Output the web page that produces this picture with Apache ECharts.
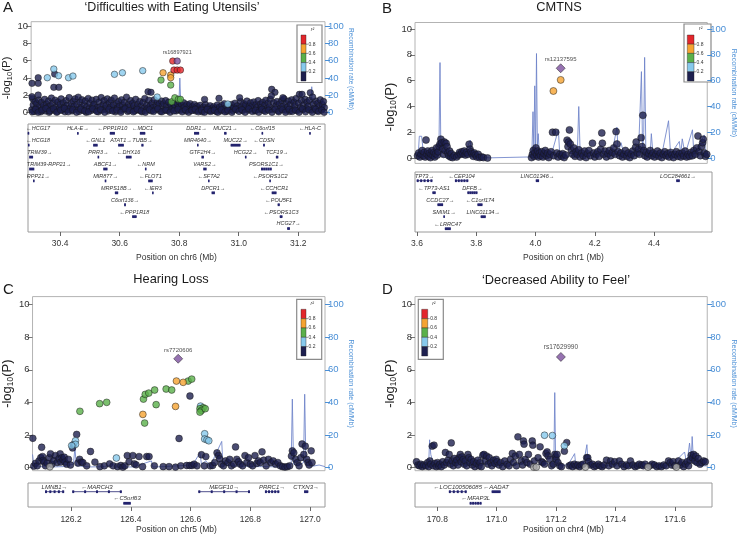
<!DOCTYPE html>
<html><head><meta charset="utf-8">
<script src="https://cdn.jsdelivr.net/npm/echarts@6.0.0/dist/echarts.min.js"></script>
<style>html,body{margin:0;padding:0;background:#fff}#c{width:738px;height:536px}</style>
</head><body><div id="c"></div>
<script>
// ---------------- DATA ----------------
const pTicks = [0, 2, 4, 6, 8, 10];
const rTicks = [0, 20, 40, 60, 80, 100];
const xTicksA = [30.4, 30.6, 30.8, 31.0, 31.2];
const xTicksB = [3.6, 3.8, 4.0, 4.2, 4.4];
const xTicksC = [126.2, 126.4, 126.6, 126.8, 127.0];
const xTicksD = [170.8, 171.0, 171.2, 171.4, 171.6];

// Panel A: 'Difficulties with Eating Utensils' (chr6)
const navyA = [[30.294,0.35],[30.297,1.62],[30.299,0.9],[30.302,0.15],[30.305,1.3],[30.309,0.55],[30.311,1.05],[30.314,0.25],[30.318,1.48],[30.321,0.7],[30.325,0.1],[30.327,1.2],[30.331,0.45],[30.334,0.85],[30.338,1.55],[30.340,0.2],[30.344,1.0],[30.347,0.6],[30.351,1.35],[30.353,0.05],[30.357,0.8],[30.361,1.7],[30.363,0.4],[30.366,1.1],[30.370,0.25],[30.374,1.45],[30.377,0.7],[30.381,0.15],[30.383,1.25],[30.387,0.5],[30.391,0.95],[30.394,1.6],[30.397,0.3],[30.401,1.15],[30.404,0.65],[30.407,0.1],[30.411,1.4],[30.414,0.85],[30.417,0.35],[30.421,1.75],[30.424,0.55],[30.428,1.05],[30.431,0.2],[30.435,1.3],[30.438,0.75],[30.441,1.6],[30.445,0.4],[30.448,0.95],[30.452,1.8],[30.455,0.15],[30.458,1.2],[30.462,0.6],[30.465,1.5],[30.468,0.3],[30.472,0.9],[30.476,1.35],[30.479,0.05],[30.482,0.7],[30.486,1.65],[30.489,0.45],[30.492,1.1],[30.496,0.25],[30.499,1.45],[30.503,0.8],[30.506,1.0],[30.510,0.35],[30.513,1.55],[30.516,0.6],[30.520,0.1],[30.523,1.25],[30.527,0.7],[30.530,1.75],[30.533,0.3],[30.537,0.95],[30.540,1.4],[30.544,0.5],[30.547,0.85],[30.551,1.6],[30.554,0.2],[30.558,1.15],[30.561,0.65],[30.564,1.45],[30.568,0.4],[30.571,0.9],[30.575,1.7],[30.578,0.1],[30.582,1.05],[30.585,0.55],[30.589,1.3],[30.592,0.75],[30.596,0.25],[30.599,1.5],[30.603,0.85],[30.606,0.4],[30.609,1.2],[30.613,0.6],[30.616,1.8],[30.620,0.15],[30.623,1.0],[30.627,0.7],[30.630,1.4],[30.634,0.35],[30.637,1.1],[30.641,0.8],[30.644,0.2],[30.647,1.55],[30.651,0.6],[30.654,0.95],[30.658,0.3],[30.661,1.3],[30.665,0.75],[30.668,0.1],[30.672,1.2],[30.675,0.5],[30.678,1.65],[30.682,0.25],[30.685,0.9],[30.689,0.55],[30.692,1.45],[30.696,0.8],[30.700,0.2],[30.703,1.1],[30.706,0.6],[30.710,1.5],[30.713,0.35],[30.717,0.85],[30.721,1.25],[30.724,0.45],[30.727,1.0],[30.731,0.15],[30.735,1.35],[30.738,0.7],[30.742,1.05],[30.745,0.3],[30.749,1.4],[30.752,0.8],[30.756,0.25],[30.759,1.2],[30.763,0.65],[30.767,0.95],[30.770,0.4],[30.774,1.1],[30.778,0.55],[30.781,0.85],[30.785,0.2],[30.789,1.0],[30.792,0.6],[30.796,1.25],[30.800,0.3],[30.803,0.9],[30.807,0.5],[30.810,1.15],[30.814,0.7],[30.818,0.2],[30.821,0.95],[30.825,0.45],[30.829,0.8],[30.832,1.05],[30.836,0.3],[30.840,0.7],[30.843,0.5],[30.847,0.95],[30.851,0.2],[30.855,0.75],[30.858,0.55],[30.862,0.3],[30.866,0.85],[30.870,0.45],[30.873,0.1],[30.877,0.65],[30.884,0.95],[30.888,0.35],[30.892,0.6],[30.896,0.2],[30.900,0.8],[30.904,0.45],[30.908,0.25],[30.912,0.7],[30.916,0.5],[30.920,0.15],[30.924,0.9],[30.928,0.4],[30.932,0.65],[30.936,0.2],[30.940,0.85],[30.944,0.35],[30.948,1.05],[30.952,0.55],[30.956,0.15],[30.964,0.7],[30.968,0.4],[30.972,0.95],[30.976,0.25],[30.980,0.6],[30.984,1.1],[30.988,0.35],[30.992,0.8],[30.996,0.5],[31.003,1.3],[31.006,0.7],[31.010,0.25],[31.014,1.05],[31.018,0.55],[31.021,0.9],[31.025,1.35],[31.029,0.3],[31.033,0.75],[31.037,1.15],[31.041,0.45],[31.044,0.85],[31.048,1.25],[31.052,0.2],[31.056,0.95],[31.059,0.6],[31.063,1.4],[31.067,0.35],[31.071,1.0],[31.074,0.65],[31.078,1.2],[31.082,0.25],[31.086,0.9],[31.089,1.45],[31.093,0.5],[31.097,1.1],[31.101,0.7],[31.104,1.55],[31.112,0.4],[31.116,1.15],[31.124,0.85],[31.127,1.3],[31.131,0.2],[31.135,1.0],[31.139,0.55],[31.143,1.4],[31.147,0.75],[31.151,1.6],[31.155,0.3],[31.158,1.05],[31.162,0.65],[31.166,1.35],[31.170,0.15],[31.173,0.95],[31.177,1.5],[31.181,0.45],[31.185,1.2],[31.188,0.8],[31.192,1.65],[31.196,0.25],[31.200,1.1],[31.206,0.6],[31.210,1.4],[31.214,0.35],[31.218,0.9],[31.222,1.55],[31.226,0.5],[31.229,1.2],[31.233,0.75],[31.237,1.45],[31.244,0.3],[31.251,1.0],[31.255,0.55],[31.259,1.35],[31.263,0.2],[31.266,1.1],[31.270,0.7],[31.274,1.5],[31.278,0.4],[31.281,0.95],[31.285,1.3],[31.288,0.6],
[30.296,0.1],[30.307,0.4],[30.316,0.05],[30.329,0.3],[30.342,0.5],[30.355,0.2],[30.368,0.45],[30.379,0.05],[30.392,0.3],[30.405,0.5],[30.418,0.1],[30.433,0.35],[30.446,0.05],[30.460,0.4],[30.474,0.2],[30.487,0.1],[30.501,0.45],[30.515,0.15],[30.528,0.35],[30.542,0.05],[30.556,0.4],[30.569,0.2],[30.583,0.3],[30.597,0.05],[30.611,0.45],[30.625,0.25],[30.639,0.1],[30.652,0.4],[30.666,0.2],[30.680,0.05],[30.694,0.35],[30.708,0.15],[30.722,0.45],[30.736,0.1],[30.750,0.3],[30.764,0.05],[30.777,0.2],[30.791,0.4],[30.805,0.1],[30.816,0.35],[30.827,0.05],[30.838,0.25],[30.849,0.4],[30.860,0.1],[30.871,0.3],[30.881,0.05],[30.890,0.4],[30.902,0.15],[30.914,0.3],[30.926,0.05],[30.938,0.35],[30.950,0.1],[30.960,0.3],[30.974,0.05],[30.986,0.4],[30.998,0.15],[31.008,0.35],[31.019,0.05],[31.031,0.45],[31.043,0.15],[31.054,0.3],[31.065,0.05],[31.076,0.4],[31.087,0.15],[31.099,0.3],[31.110,0.05],[31.121,0.4],[31.133,0.1],[31.145,0.35],[31.156,0.05],[31.168,0.4],[31.179,0.15],[31.190,0.3],[31.202,0.05],[31.213,0.45],[31.224,0.1],[31.235,0.35],[31.247,0.05],[31.258,0.4],[31.268,0.15],[31.279,0.3],[31.287,0.05],
[30.372,4.46],[30.316,4.04],[30.295,3.39],[30.316,3.39],[30.369,2.93],[30.386,2.93],[30.689,2.42],[30.699,2.35],[31.109,2.70],[31.120,2.35],[31.108,1.96],[31.203,2.12],[31.212,2.12],[31.240,2.31],[31.248,1.81],[30.881,1.54],[30.930,1.66],[31.000,1.74],[31.147,1.74],[30.295,1.85],[30.316,2.04]];
const lightA = [[30.369,5.04],[30.347,4.04],[30.385,4.27],[30.419,4.04],[30.434,4.23],[30.575,4.43],[30.602,4.61],[30.671,4.85],[30.720,1.81],[30.960,1.0]];
const greenA = [[30.733,3.77],[30.766,3.19],[30.769,1.27],[30.780,1.73],[30.792,1.55],[30.799,1.55]];
const orangeA = [[30.740,4.61],[30.766,4.35],[30.766,4.04]];
const redA = [[30.773,5.96],[30.777,4.92],[30.788,4.92],[30.799,4.92]];
const leadA = [[30.788,5.96]];
const leadNameA = 'rs16897921';
const recombA = [[30.292,0.5],[30.33,1.2],[30.36,0.8],[30.385,2],[30.388,16],[30.392,1.5],[30.45,0.8],[30.5,1.0],[30.55,0.6],[30.6,1.2],[30.632,2],[30.634,16],[30.637,1.5],[30.7,0.9],[30.75,1.2],[30.793,2],[30.797,40],[30.801,3],[30.85,1.0],[30.9,0.6],[30.95,1.0],[31.0,1.5],[31.028,2],[31.03,12],[31.033,1.5],[31.078,2],[31.08,8],[31.085,1],[31.15,1.0],[31.2,1.5],[31.242,3],[31.245,30],[31.248,2],[31.29,1.0]];
const genesA = [['HCG17',30.291,30.295,1,-1],['HLA-E',30.457,30.461,1,1],['PPP1R10',30.567,30.584,1,-1],['MDC1',30.668,30.686,1,-1],['DDR1',30.850,30.867,1,1],['MUC21',30.951,30.959,1,1],['C6orf15',31.077,31.081,1,-1],['HLA-C',31.237,31.242,1,-1],
['HCG18',30.292,30.296,2,-1],['GNL1',30.511,30.526,2,-1],['ATAT1',30.595,30.614,2,1],['TUBB',30.673,30.680,2,1],['MIR4640',30.860,30.861,2,1],['MUC22',30.973,31.006,2,1],['CDSN',31.082,31.088,2,-1],
['TRIM39',30.296,30.309,3,1],['PRR3',30.526,30.531,3,1],['DHX16',30.621,30.640,3,-1],['GTF2H4',30.875,30.883,3,1],['HCG22',31.021,31.026,3,1],['TCF19',31.125,31.133,3,1],
['TRIM39-RPP21',30.296,30.313,4,1],['ABCF1',30.545,30.559,4,1],['NRM',30.685,30.690,4,-1],['VARS2',30.881,30.892,4,1],['PSORS1C1',31.075,31.111,4,1],
['RPP21',30.309,30.313,5,1],['MIR877',30.550,30.551,5,1],['FLOT1',30.696,30.711,5,-1],['SFTA2',30.897,30.901,5,-1],['PSORS1C2',31.103,31.107,5,-1],
['MRPS18B',30.584,30.595,6,1],['IER3',30.709,30.713,6,-1],['DPCR1',30.909,30.920,6,1],['CCHCR1',31.111,31.127,6,-1],
['C6orf136',30.615,30.621,7,1],['POU5F1',31.131,31.138,7,-1],
['PPP1R18',30.642,30.657,8,-1],['PSORS1C3',31.138,31.147,8,-1],
['HCG27',31.163,31.172,9,1]];

// Panel B: CMTNS (chr1)
const navyB = [[3.602,0.2],[3.606,0.4],[3.610,0.1],[3.614,0.3],[3.618,0.6],[3.622,0.2],[3.625,0.45],[3.628,0.1],[3.631,1.41],[3.634,0.3],[3.637,0.55],[3.640,0.15],[3.643,0.4],[3.646,0.05],[3.649,0.3],[3.652,0.6],[3.655,0.2],[3.658,0.45],[3.661,0.1],[3.664,0.35],[3.667,0.8],[3.670,0.25],[3.673,0.5],[3.676,0.9],[3.679,1.1],[3.682,1.47],[3.685,1.2],[3.688,0.7],[3.691,0.3],[3.694,1.25],[3.697,0.6],[3.700,1.15],[3.703,0.9],[3.706,0.4],[3.709,0.2],[3.712,0.55],[3.715,0.1],[3.718,0.35],[3.722,0.05],[3.728,0.2],[3.736,0.1],[3.742,0.25],[3.746,0.45],[3.750,0.3],[3.754,0.5],[3.758,0.35],[3.762,0.55],[3.766,0.25],[3.770,0.45],[3.775,0.3],[3.779,1.08],[3.782,0.7],[3.785,0.5],[3.789,0.35],[3.793,0.15],[3.797,0.4],[3.801,0.25],[3.805,0.1],[3.810,0.3],[3.815,0.05],[3.822,0.1],[3.828,0.05],[3.842,0.02],[3.993,0.05],[3.996,0.3],[3.999,0.6],[4.002,0.15],[4.005,0.45],[4.008,0.8],[4.011,0.25],[4.014,0.55],[4.017,0.1],[4.020,0.4],[4.024,0.2],[4.028,0.5],[4.032,0.1],[4.036,0.35],[4.040,0.6],[4.044,0.2],[4.048,0.4],[4.052,0.05],[4.056,0.3],[4.060,0.5],[4.065,2.01],[4.069,0.2],[4.076,2.01],[4.080,0.4],[4.084,0.1],[4.090,0.3],[4.096,0.15],[4.100,0.35],[4.105,0.05],[4.110,0.25],[4.115,1.4],[4.118,0.9],[4.120,1.25],[4.123,2.19],[4.126,1.1],[4.130,0.6],[4.134,0.3],[4.138,0.8],[4.142,0.15],[4.146,0.5],[4.150,0.3],[4.155,0.65],[4.160,0.1],[4.165,0.4],[4.170,0.2],[4.175,0.55],[4.180,0.05],[4.185,0.35],[4.190,0.6],[4.195,0.2],[4.202,1.16],[4.206,0.4],[4.210,0.1],[4.215,0.3],[4.220,0.5],[4.225,0.15],[4.230,0.7],[4.234,1.96],[4.236,1.16],[4.240,0.3],[4.245,0.55],[4.250,0.1],[4.255,0.35],[4.260,0.6],[4.265,0.2],[4.270,0.45],[4.275,0.8],[4.280,0.3],[4.283,2.06],[4.286,1.1],[4.290,0.5],[4.295,0.2],[4.300,0.4],[4.305,0.1],[4.310,0.3],[4.315,0.6],[4.320,0.15],[4.325,0.4],[4.330,0.05],[4.335,0.3],[4.340,0.55],[4.345,0.2],[4.350,0.85],[4.352,1.25],[4.356,0.4],[4.360,0.7],[4.364,0.3],[4.369,1.59],[4.372,0.9],[4.375,3.32],[4.378,0.6],[4.382,0.2],[4.386,0.45],[4.390,0.1],[4.395,0.35],[4.400,0.6],[4.405,0.2],[4.410,0.4],[4.415,0.1],[4.420,0.3],[4.425,0.55],[4.430,0.15],[4.435,0.4],[4.440,0.05],[4.445,0.3],[4.450,0.5],[4.455,0.2],[4.460,0.35],[4.465,0.1],[4.470,0.45],[4.475,0.25],[4.480,0.05],[4.485,0.3],[4.490,0.5],[4.495,0.15],[4.500,0.35],[4.505,0.1],[4.510,0.4],[4.515,0.2],[4.520,0.55],[4.525,0.1],[4.530,0.3],[4.535,0.15],[4.540,0.45],[4.545,0.2],[4.550,0.6],[4.555,0.3],[4.560,0.8],[4.564,1.72],[4.568,0.5],[4.572,0.2],[4.576,0.9],[4.580,1.2],[4.582,1.47],[4.586,0.4],[4.590,0.15],[4.594,0.3]];
const orangeB = [[4.093,6.06],[4.068,5.2]];
const leadB = [[4.093,6.96]];
const leadNameB = 'rs12137595';
const recombB = [[3.600,1],[3.605,5],[3.608,17],[3.616,17],[3.622,4],[3.63,2],[3.64,1],[3.66,1.5],[3.675,2],[3.679,74],[3.682,2],[3.69,1],[3.70,0.5],[3.72,0.8],[3.74,1.5],[3.76,2],[3.783,14],[3.786,3],[3.80,0.8],[3.83,0.5],[3.85,0.3],[3.99,1],[3.995,10],[3.998,36],[4.001,5],[4.004,56],[4.007,3],[4.010,81],[4.013,10],[4.016,19],[4.02,2],[4.04,1.5],[4.06,2],[4.085,22],[4.09,2],[4.12,1.5],[4.15,3],[4.155,40],[4.16,3],[4.19,2],[4.22,1.5],[4.25,3],[4.27,5],[4.286,24],[4.29,4],[4.30,12],[4.31,3],[4.34,2],[4.36,5],[4.365,35],[4.37,67],[4.374,5],[4.378,20],[4.381,78],[4.385,8],[4.40,3],[4.404,19],[4.41,2],[4.44,3],[4.463,29],[4.47,3],[4.50,13],[4.505,3],[4.51,15],[4.52,3],[4.545,22],[4.55,3],[4.586,18],[4.59,3]];
const genesB = [['TP73',3.599,3.652,1,1],['CEP104',3.728,3.773,1,-1],['LINC01346',4.001,4.012,1,1],['LOC284661',4.475,4.487,1,1],['TP73-AS1',3.652,3.663,2,-1],['DFFB',3.770,3.804,2,1],['CCDC27',3.669,3.688,3,1],['C1orf174',3.804,3.821,3,-1],['SMIM1',3.689,3.693,4,1],['LINC01134',3.815,3.832,4,1],['LRRC47',3.694,3.714,5,-1]];

// Panel C: Hearing Loss (chr5)
const navyC = [[126.057,1.79],[126.060,0.08],[126.066,0.25],[126.072,0.1],[126.078,0.4],[126.084,0.6],[126.087,1.24],[126.090,0.67],[126.092,0.43],[126.095,0.33],[126.100,0.1],[126.106,0.27],[126.113,0.6],[126.117,0.84],[126.122,0.2],[126.128,0.43],[126.134,0.73],[126.140,0.3],[126.146,0.55],[126.150,0.84],[126.152,0.33],[126.156,0.6],[126.160,0.47],[126.164,0.63],[126.166,0.33],[126.172,0.2],[126.178,0.5],[126.185,0.15],[126.192,1.2],[126.195,1.4],[126.206,2.03],[126.210,0.27],[126.216,0.5],[126.222,0.33],[126.227,0.3],[126.240,0.1],[126.253,0.98],[126.268,0.33],[126.285,0.05],[126.300,0.1],[126.318,0.22],[126.330,0.1],[126.345,0.05],[126.356,0.12],[126.363,0.02],[126.370,0.1],[126.378,0.73],[126.384,0.35],[126.397,0.73],[126.402,0.22],[126.408,0.16],[126.418,0.67],[126.430,0.05],[126.444,0.67],[126.452,0.67],[126.470,0.1],[126.500,0.05],[126.520,0.05],[126.542,0.02],[126.554,1.78],[126.560,0.1],[126.580,0.12],[126.590,0.12],[126.598,0.12],[126.605,0.2],[126.615,0.1],[126.630,0.78],[126.640,0.1],[126.645,0.67],[126.660,0.1],[126.668,0.12],[126.675,0.3],[126.683,0.9],[126.688,0.73],[126.692,0.53],[126.698,0.2],[126.705,0.1],[126.712,0.4],[126.720,0.3],[126.726,0.5],[126.732,0.1],[126.740,0.2],[126.746,1.26],[126.750,0.5],[126.756,0.35],[126.762,0.2],[126.770,0.1],[126.778,0.73],[126.784,0.3],[126.790,0.6],[126.796,0.2],[126.804,0.1],[126.812,0.73],[126.818,0.25],[126.824,0.4],[126.830,0.3],[126.836,0.96],[126.842,0.45],[126.850,0.1],[126.858,0.5],[126.866,0.3],[126.874,0.4],[126.882,0.2],[126.890,0.3],[126.898,0.1],[126.906,0.05],[126.914,0.02],[126.922,0.05],[126.930,0.1],[126.936,0.7],[126.939,1.02],[126.944,0.9],[126.950,0.5],[126.956,0.3],[126.962,0.1],[126.968,0.6],[126.972,1.44],[126.978,0.8],[126.983,1.31],[126.988,0.5],[126.992,0.3],[126.996,0.15],[127.003,1.02],[127.006,0.3],[126.591,4.39]];
const lightC = [[126.202,1.64],[126.202,1.42],[126.189,1.34],[126.341,0.58],[126.641,2.07],[126.641,1.75],[126.649,1.7],[126.655,1.64],[126.627,3.77]];
const greenC = [[126.217,3.45],[126.284,3.92],[126.308,4.0],[126.433,4.2],[126.439,4.49],[126.451,4.57],[126.471,4.76],[126.476,3.86],[126.510,4.82],[126.529,4.76],[126.585,5.31],[126.597,5.43],[126.437,2.73],[126.636,3.67],[126.625,3.61],[126.630,3.5],[126.625,3.4],[126.643,3.61]];
const orangeC = [[126.545,5.31],[126.568,5.23],[126.542,3.75],[126.431,3.26]];
const grayC = [[126.115,0.04]];
const leadC = [[126.551,6.68]];
const leadNameC = 'rs7720606';
const recombC = [[126.056,8],[126.06,2],[126.08,0.5],[126.12,0.3],[126.16,0.5],[126.195,2],[126.2,12],[126.205,1],[126.25,0.3],[126.30,0.5],[126.33,2],[126.335,0.3],[126.40,0.3],[126.46,4],[126.465,0.3],[126.5,0.5],[126.55,1],[126.6,1.5],[126.625,9],[126.63,2],[126.645,4],[126.66,1],[126.699,16],[126.703,1.5],[126.75,1],[126.8,0.5],[126.85,0.5],[126.9,0.3],[126.935,2],[126.939,42],[126.943,2],[126.96,1],[126.977,3],[126.981,45],[126.985,2],[127.0,0.5],[127.03,1.5],[127.05,0.5]];
const genesC = [['LMNB1',126.113,126.177,1,1],['MARCH3',126.204,126.370,1,-1],['MEGF10',126.626,126.799,1,1],['PRRC1',126.849,126.897,1,1],['CTXN3',126.980,126.994,1,1],['C5orf63',126.375,126.400,2,-1]];

// Panel D: 'Decreased Ability to Feel' (chr4)
const navyD = [[170.730,0.35],[170.735,0.15],[170.740,0.1],[170.745,0.2],[170.750,0.05],[170.755,0.15],[170.762,0.1],[170.768,0.3],[170.772,0.05],[170.776,0.4],[170.779,0.2],[170.784,1.31],[170.790,1.37],[170.787,0.1],[170.793,0.25],[170.798,0.05],[170.802,0.3],[170.806,0.1],[170.810,0.2],[170.815,0.05],[170.820,0.35],[170.825,0.15],[170.829,0.92],[170.833,0.3],[170.838,0.45],[170.842,0.8],[170.846,0.2],[170.849,1.51],[170.852,0.4],[170.856,0.1],[170.860,0.55],[170.864,0.3],[170.868,0.45],[170.872,0.15],[170.876,0.6],[170.880,0.8],[170.883,0.35],[170.886,0.65],[170.890,0.49],[170.893,0.2],[170.897,0.4],[170.902,0.1],[170.906,0.8],[170.909,0.6],[170.913,0.3],[170.917,0.5],[170.921,0.15],[170.925,0.35],[170.930,0.05],[170.935,0.25],[170.940,0.45],[170.944,0.1],[170.948,0.3],[170.952,0.05],[170.957,0.75],[170.961,0.8],[170.966,0.4],[170.970,0.7],[170.975,0.2],[170.979,0.6],[170.984,0.3],[170.988,0.1],[170.993,0.45],[170.998,0.25],[171.003,0.5],[171.006,0.35],[171.012,0.15],[171.018,0.3],[171.025,0.05],[171.032,0.4],[171.040,0.2],[171.047,0.1],[171.052,0.5],[171.058,0.86],[171.062,0.3],[171.068,0.7],[171.072,0.1],[171.077,1.88],[171.082,0.8],[171.088,0.4],[171.093,0.15],[171.096,1.63],[171.098,1.43],[171.102,0.5],[171.108,0.3],[171.113,0.8],[171.119,0.2],[171.126,1.63],[171.128,1.37],[171.133,0.4],[171.146,0.6],[171.153,1.27],[171.158,0.35],[171.162,0.3],[171.168,0.2],[171.173,0.86],[171.177,0.96],[171.180,0.71],[171.186,0.5],[171.192,0.1],[171.198,0.2],[171.203,0.8],[171.206,0.65],[171.208,0.49],[171.211,0.8],[171.214,0.3],[171.220,0.1],[171.226,0.05],[171.236,1.0],[171.244,1.53],[171.252,0.1],[171.258,0.15],[171.264,0.05],[171.270,0.2],[171.276,0.1],[171.282,0.15],[171.288,0.05],[171.294,0.15],[171.300,0.2],[171.312,0.6],[171.316,0.6],[171.319,0.35],[171.325,0.15],[171.332,0.2],[171.338,0.05],[171.345,0.1],[171.352,0.2],[171.358,0.1],[171.365,0.05],[171.372,0.15],[171.380,0.45],[171.388,0.1],[171.394,0.4],[171.400,0.2],[171.408,0.35],[171.416,0.1],[171.424,0.4],[171.432,0.2],[171.440,0.05],[171.448,0.15],[171.455,0.1],[171.462,0.4],[171.470,0.15],[171.478,0.05],[171.486,0.1],[171.492,0.2],[171.500,0.15],[171.506,0.1],[171.512,0.2],[171.528,0.1],[171.536,0.2],[171.544,0.15],[171.552,0.05],[171.560,0.1],[171.568,0.05],[171.576,0.15],[171.584,0.1],[171.592,0.4],[171.598,0.3],[171.603,0.15],[171.608,0.35],[171.614,0.1],[171.626,0.4],[171.632,0.15],[171.638,0.3],[171.644,0.05],[171.650,0.2],[171.656,0.35],[171.661,0.1],[171.666,0.45],[171.670,0.75],[171.674,0.6],[171.678,0.8],[171.682,0.4],[171.686,0.7],[171.690,0.3],[171.694,0.55],[171.700,0.2],[171.706,0.3],[171.712,0.4],[171.718,0.35]];
const lightD = [[171.168,1.98],[171.195,1.96],[171.236,1.33]];
const grayD = [[171.131,0.02],[171.140,0.02],[171.308,0.02],[171.522,0.02],[171.619,0.02]];
const leadD = [[171.224,6.79]];
const leadNameD = 'rs17629990';
const recombD = [[170.725,2],[170.76,1],[170.772,3],[170.775,17],[170.779,8],[170.785,4],[170.80,1],[170.83,2],[170.85,1],[170.88,1.5],[170.90,1],[170.93,2],[170.957,10],[170.96,2],[171.0,1],[171.05,1.5],[171.08,2],[171.12,1],[171.16,2],[171.2,3],[171.203,46],[171.206,3],[171.23,1],[171.25,2],[171.271,8.5],[171.275,1],[171.3,1],[171.313,14],[171.317,1],[171.35,1.5],[171.4,1],[171.45,1],[171.5,1],[171.55,1.5],[171.6,1],[171.647,9.5],[171.655,2],[171.664,15],[171.67,4],[171.673,19],[171.678,2],[171.7,1],[171.725,1]];
const genesD = [['LOC100506085',170.839,170.899,1,-1],['AADAT',170.983,171.013,1,-1],['MFAP3L',170.909,170.949,2,-1]];

// ---------------- STYLE / LAYOUT ----------------
const FONT = "'Liberation Sans', Arial, sans-serif";
const BLUE = '#4a8fd6';
const C = {navy:'#1d1f4f', light:'#87c9ec', green:'#5ab04a', orange:'#f5a331', red:'#e3262b', purple:'#7c4f9e', gray:'#a8a8a8', recomb:'#6d83c9'};

const grids = [], xAxes = [], yAxes = [], series = [];

function scat(data, color, xi, yi, size, extra) {
  return Object.assign({type:'scatter', xAxisIndex:xi, yAxisIndex:yi, data:data, symbolSize:size, silent:true, z:3,
    itemStyle:{color:color, borderColor:'#151515', borderWidth:0.6}}, extra || {});
}

function geneSeries(genes, xi, yi, fs) {
  const cw = fs * 0.56;
  return {type:'custom', xAxisIndex:xi, yAxisIndex:yi, silent:true, clip:false, z:3,
    encode:{x:[0,1], y:2},
    data: genes.map(g => [g[1], g[2], g[3]]),
    renderItem: function(params, api) {
      const g = genes[params.dataIndex];
      const p0 = api.coord([g[1], g[3]]), p1 = api.coord([g[2], g[3]]);
      const cs = params.coordSys;
      const x0 = p0[0], x1 = Math.max(p1[0], p0[0] + 1.5), y = p0[1];
      const label = g[4] < 0 ? '\u2190' + g[0] : g[0] + '\u2192';
      const w = label.length * cw;
      let cx = (x0 + x1) / 2;
      cx = Math.min(Math.max(cx, cs.x + w / 2 + 1), cs.x + cs.width - w / 2 - 1);
      const kids = [{type:'line', shape:{x1:x0, y1:y, x2:x1, y2:y}, style:{stroke:'#23236e', lineWidth:0.8}}];
      const wd = x1 - x0;
      if (wd <= 10) {
        kids.push({type:'rect', shape:{x:x0, y:y-1.4, width:wd, height:2.8}, style:{fill:'#23236e'}});
      } else {
        [0, 0.25, 0.5, 0.75, 1].forEach(f => kids.push({type:'rect', shape:{x:x0 + f*(wd-2), y:y-1.4, width:2, height:2.8}, style:{fill:'#23236e'}}));
      }
      kids.push({type:'text', style:{text:label, x:cx, y:y-4.6, font:'italic ' + fs + 'px ' + FONT, fill:'#333',
        align:'center', verticalAlign:'middle', textAlign:'center', textVerticalAlign:'middle'}});
      return {type:'group', children:kids};
    }};
}

function addPanel(p) {
  const gi = grids.length;
  grids.push({left:p.plot[0], top:p.plot[1], width:p.plot[2], height:p.plot[3], show:true, borderColor:'#b3b3b3', borderWidth:1, backgroundColor:'rgba(0,0,0,0)'});
  const xi = xAxes.length;
  xAxes.push({gridIndex:gi, type:'value', min:p.x[0], max:p.x[1], show:false});
  const yl = yAxes.length;
  yAxes.push({gridIndex:gi, type:'value', min:p.y[0], max:p.y[1], position:'left', splitLine:{show:false},
    axisLine:{show:false},
    axisTick:{show:true, length:5, lineStyle:{color:'#777'}, customValues:pTicks},
    axisLabel:{fontSize:9.5, color:'#333', margin:3, fontFamily:FONT, customValues:pTicks},
    name:'-log{s|10}(P)', nameLocation:'middle', nameRotate:90, nameGap:p.nameGap,
    nameTextStyle:{fontSize:p.nameFs, color:'#222', fontFamily:FONT, padding:[0, p.nameShift, 0, 0],
      rich:{s:{fontSize:p.nameFs*0.65, fontFamily:FONT, color:'#222', padding:[p.nameFs*0.55,0,0,0]}}}});
  const yr = yAxes.length;
  yAxes.push({gridIndex:gi, type:'value', min:p.y[0]*10, max:p.y[1]*10, position:'right', splitLine:{show:false},
    axisLine:{show:false},
    axisTick:{show:true, length:5, lineStyle:{color:BLUE}, customValues:rTicks},
    axisLabel:{fontSize:9.5, color:BLUE, margin:3, fontFamily:FONT, customValues:rTicks},
    name:'Recombination rate (cM/Mb)', nameLocation:'middle', nameRotate:-90, nameGap:p.rGap,
    nameTextStyle:{fontSize:p.rFs, color:BLUE, fontFamily:FONT}});
  series.push({type:'line', xAxisIndex:xi, yAxisIndex:yr, data:p.recomb, showSymbol:false, silent:true, z:2,
    lineStyle:{color:C.recomb, width:1, opacity:0.85}});
  const s = p.pt;
  series.push(scat(p.navy, C.navy, xi, yl, s));
  if (p.gray) series.push(scat(p.gray, C.gray, xi, yl, s));
  if (p.light) series.push(scat(p.light, C.light, xi, yl, s));
  if (p.green) series.push(scat(p.green, C.green, xi, yl, s));
  if (p.orange) series.push(scat(p.orange, C.orange, xi, yl, s));
  if (p.red) series.push(scat(p.red, C.red, xi, yl, s));
  series.push(scat(p.lead, C.purple, xi, yl, p.leadSymbol === 'diamond' ? 9 : s, {symbol:p.leadSymbol, z:4,
    label:{show:true, position:'top', distance:p.labelDist, formatter:p.leadName, fontSize:p.labelFs, color:'#222', fontFamily:FONT}}));

  const gg = grids.length;
  grids.push({left:p.gene[0], top:p.gene[1], width:p.gene[2], height:p.gene[3], show:true, borderColor:'#9a9a9a', borderWidth:1, backgroundColor:'rgba(0,0,0,0)'});
  const gx = xAxes.length;
  xAxes.push({gridIndex:gg, type:'value', min:p.x[0], max:p.x[1], position:'bottom', splitLine:{show:false},
    axisLine:{show:false},
    axisTick:{show:true, length:4, lineStyle:{color:'#666'}, customValues:p.ticks},
    axisLabel:{fontSize:8.5, color:'#333', margin:p.xMargin, fontFamily:FONT, customValues:p.ticks, formatter:v => Number(v).toFixed(1)},
    name:'Position on ' + p.chr + ' (Mb)', nameLocation:'middle', nameGap:p.xNameGap,
    nameTextStyle:{fontSize:8.5, color:'#333', fontFamily:FONT}});
  const gy = yAxes.length;
  yAxes.push({gridIndex:gg, type:'value', min:p.rows[0], max:p.rows[1], inverse:true, show:false});
  series.push(geneSeries(p.genes, gx, gy, p.geneFs));
}

addPanel({plot:[28,21.7,297,94.5], gene:[28,124,297,108], x:[30.292,31.29], y:[-0.4,10.5], rows:[0.22,9.29], pt:6.5,
  navy:navyA, light:lightA, green:greenA, orange:orangeA, red:redA, lead:leadA, leadName:leadNameA, leadSymbol:'circle',
  labelDist:2, labelFs:5.5, recomb:recombA, genes:genesA, geneFs:5.5, ticks:xTicksA, chr:'chr6',
  nameGap:15, nameFs:11.5, nameShift:18, rGap:20, rFs:6.5, xMargin:7, xNameGap:21});
addPanel({plot:[415,22.5,297,140.9], gene:[415,172,297,60], x:[3.5932,4.5958], y:[-0.4,10.5], rows:[0.275,5.275], pt:7,
  navy:navyB, orange:orangeB, lead:leadB, leadName:leadNameB, leadSymbol:'diamond',
  labelDist:1, labelFs:6, recomb:recombB, genes:genesB, geneFs:5.6, ticks:xTicksB, chr:'chr1',
  nameGap:14, nameFs:13, nameShift:28, rGap:19, rFs:7, xMargin:7, xNameGap:21});
addPanel({plot:[28,296.6,297,174.1], gene:[28,483,297,24], x:[126.056,127.05], y:[-0.2,10.5], rows:[0.25,2.32], pt:6.8,
  navy:navyC, gray:grayC, light:lightC, green:greenC, orange:orangeC, lead:leadC, leadName:leadNameC, leadSymbol:'diamond',
  labelDist:1, labelFs:6, recomb:recombC, genes:genesC, geneFs:6, ticks:xTicksC, chr:'chr5',
  nameGap:13, nameFs:13, nameShift:0, rGap:20, rFs:7, xMargin:8, xNameGap:18});
addPanel({plot:[415,296.6,297,174.1], gene:[415,483,297,24], x:[170.725,171.7246], y:[-0.2,10.5], rows:[0.25,2.32], pt:6.8,
  navy:navyD, gray:grayD, light:lightD, lead:leadD, leadName:leadNameD, leadSymbol:'diamond',
  labelDist:1, labelFs:6.5, recomb:recombD, genes:genesD, geneFs:6, ticks:xTicksD, chr:'chr4',
  nameGap:14, nameFs:13, nameShift:0, rGap:19, rFs:7, xMargin:8, xNameGap:18});

// r^2 legend boxes and titles (decoration)
const ldColors = [C.red, C.orange, C.green, C.light, C.navy];
const ldLabels = ['0.8', '0.6', '0.4', '0.2'];
function ldLegend(x, y, w, h, bx, by, bw, bh) {
  const kids = [{type:'rect', shape:{x:x, y:y, width:w, height:h}, style:{fill:'#fff', stroke:'#8a8a8a', lineWidth:1.2}},
    {type:'text', style:{text:'r²', x:x + w*0.62, y:y + 4.5, font:'italic 5px ' + FONT, fill:'#333', textAlign:'center', textVerticalAlign:'middle', align:'center', verticalAlign:'middle'}}];
  const sh = bh / 5;
  ldColors.forEach((c, i) => kids.push({type:'rect', shape:{x:x+bx, y:y+by+i*sh, width:bw, height:sh}, style:{fill:c, stroke:'#222', lineWidth:0.4}}));
  ldLabels.forEach((t, i) => {
    const yy = y + by + (i+1)*sh;
    kids.push({type:'line', shape:{x1:x+bx+bw, y1:yy, x2:x+bx+bw+2, y2:yy}, style:{stroke:'#333', lineWidth:0.5}});
    kids.push({type:'text', style:{text:t, x:x+bx+bw+2.5, y:yy, font:'5px ' + FONT, fill:'#333', textAlign:'left', textVerticalAlign:'middle', align:'left', verticalAlign:'middle'}});
  });
  return {type:'group', children:kids, silent:true, z:10};
}
function txt(t, x, y, size, align) {
  return {type:'text', x:x, y:y, silent:true, style:{text:t, font:size + 'px ' + FONT, fill:'#1a1a1a',
    textAlign:align, textVerticalAlign:'middle', align:align, verticalAlign:'middle'}};
}
const graphics = [
  ldLegend(297, 25, 25, 57.5, 4, 10, 5, 46),
  ldLegend(684, 24, 27, 58, 3.3, 11, 6.7, 46),
  ldLegend(296.7, 299.3, 25, 60, 4.3, 10, 5, 46.7),
  ldLegend(418.3, 299.3, 25, 60, 3.4, 10, 6, 46.7),
  txt('A', 3, 8, 15, 'left'), txt('\u2018Difficulties with Eating Utensils\u2019', 172, 7.5, 12.5, 'center'),
  txt('B', 382, 8.5, 15, 'left'), txt('CMTNS', 559, 7, 12.8, 'center'),
  txt('C', 3, 290, 15, 'left'), txt('Hearing Loss', 171, 279.5, 12.8, 'center'),
  txt('D', 382, 290, 15, 'left'), txt('\u2018Decreased Ability to Feel\u2019', 556, 280, 12.8, 'center')
];

const chart = echarts.init(document.getElementById('c'), null, {renderer:'canvas'});
chart.setOption({animation:false, backgroundColor:'#fff', textStyle:{fontFamily:FONT},
  grid:grids, xAxis:xAxes, yAxis:yAxes, series:series, graphic:graphics});
</script></body></html>
